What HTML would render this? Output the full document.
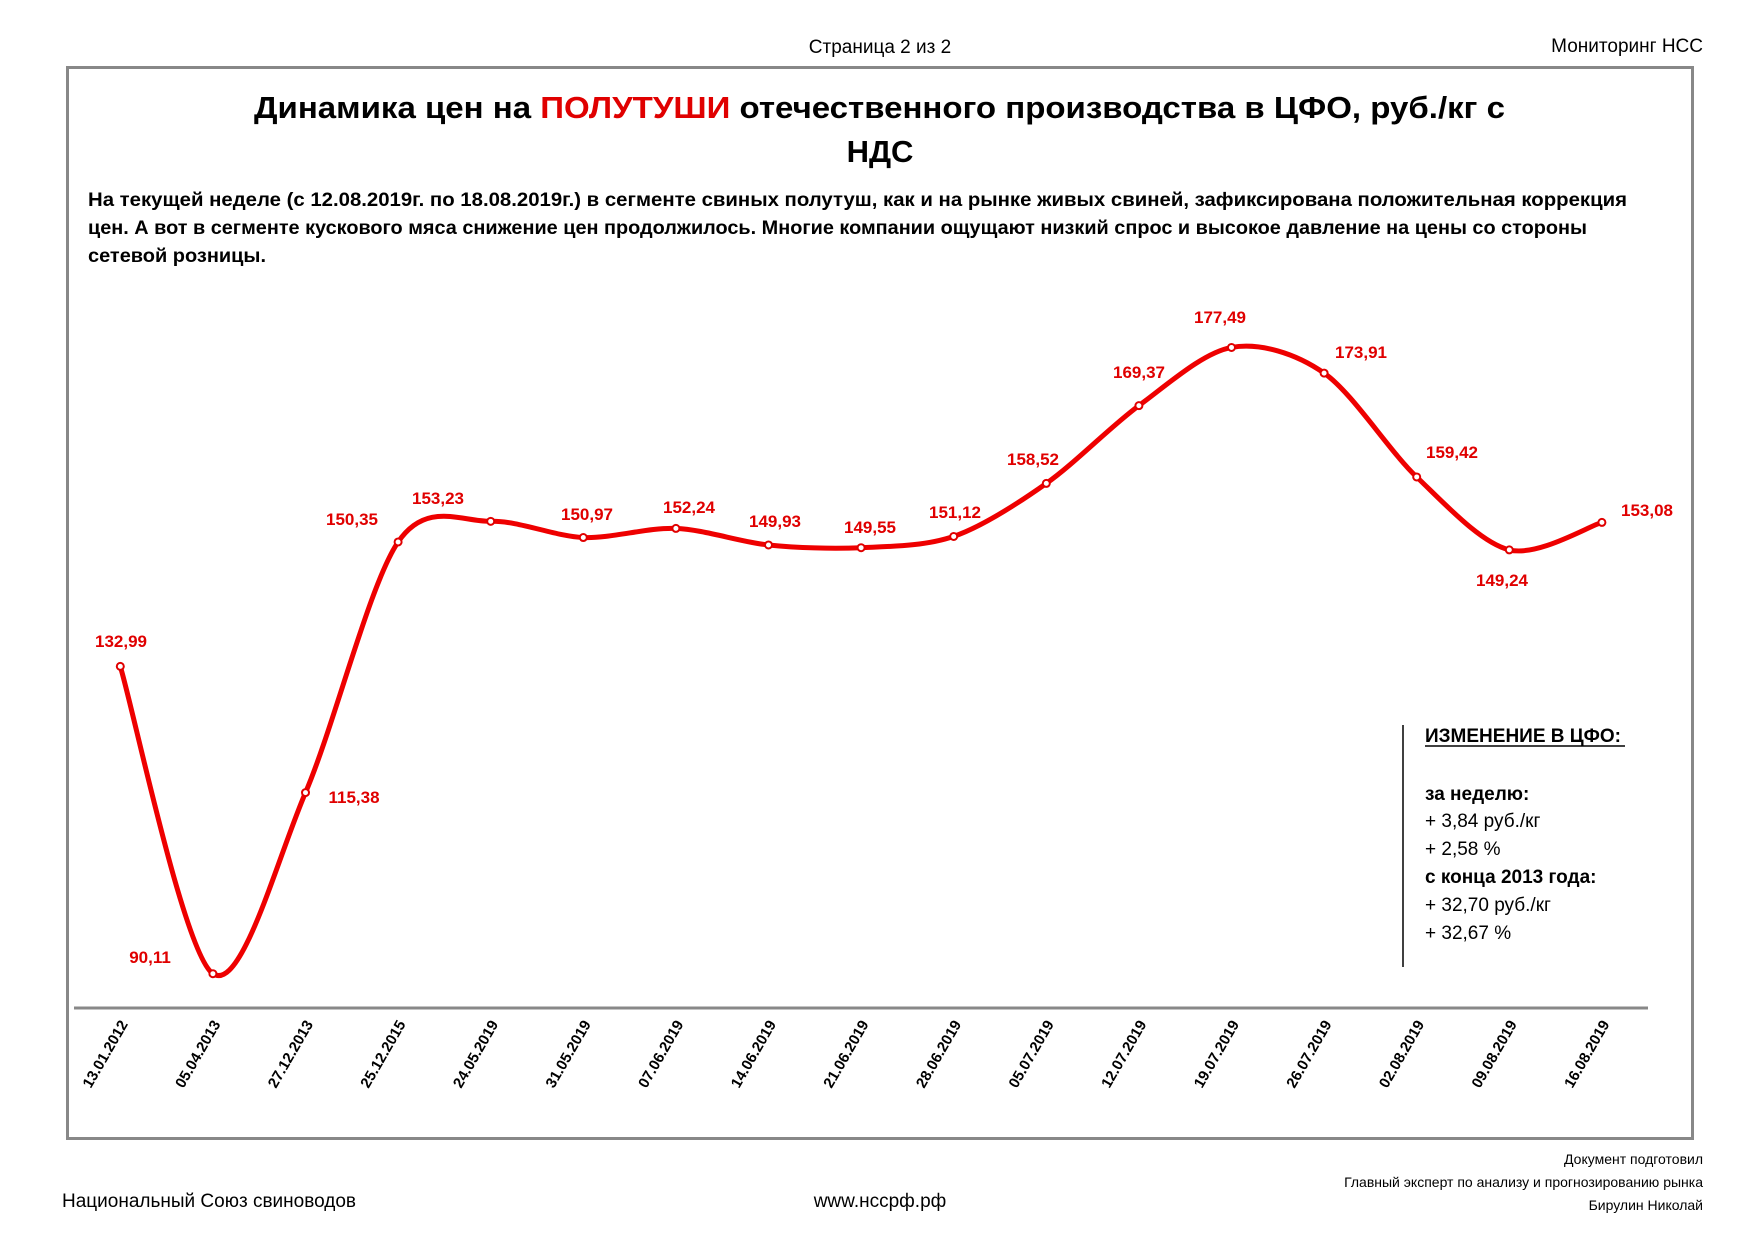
<!DOCTYPE html>
<html><head><meta charset="utf-8"><style>
html,body{margin:0;padding:0;background:#fff;}
svg{display:block;font-family:"Liberation Sans","DejaVu Sans",sans-serif;}
</style></head><body>
<svg id="s" width="1754" height="1240" viewBox="0 0 1754 1240" xmlns="http://www.w3.org/2000/svg">
<rect width="1754" height="1240" fill="#fff"/>
<text x="880" y="53" font-size="19" text-anchor="middle" fill="#000">Страница 2 из 2</text>
<text x="1703" y="52" font-size="19" text-anchor="end" fill="#000">Мониторинг НСС</text>
<rect x="67.5" y="67.5" width="1625" height="1071" fill="none" stroke="#888" stroke-width="3"/>
<text x="254" y="118" font-size="31" font-weight="bold" textLength="1251" lengthAdjust="spacingAndGlyphs">Динамика цен на <tspan fill="#e00000">ПОЛУТУШИ</tspan> отечественного производства в ЦФО, руб./кг с</text>
<text x="880" y="162" font-size="31" font-weight="bold" text-anchor="middle">НДС</text>
<g font-size="19" font-weight="bold">
<text x="88" y="206" textLength="1539" lengthAdjust="spacingAndGlyphs">На текущей неделе (с 12.08.2019г. по 18.08.2019г.) в сегменте свиных полутуш, как и на рынке живых свиней, зафиксирована положительная коррекция</text>
<text x="88" y="234" textLength="1499" lengthAdjust="spacingAndGlyphs">цен. А вот в сегменте кускового мяса снижение цен продолжилось. Многие компании ощущают низкий спрос и высокое давление на цены со стороны</text>
<text x="88" y="262" textLength="178" lengthAdjust="spacingAndGlyphs">сетевой розницы.</text>
</g>
<line x1="74" y1="1008" x2="1648" y2="1008" stroke="#888" stroke-width="3"/>
<path id="curve" fill="none" stroke="#ee0000" stroke-width="5" stroke-linejoin="round"/>
<g id="pts"></g>
<g id="dates" font-size="15" font-weight="bold"></g>
<g font-size="17" font-weight="bold" fill="#e00000" text-anchor="middle">
<text x="121" y="647">132,99</text>
<text x="150" y="963">90,11</text>
<text x="354" y="803">115,38</text>
<text x="352" y="525">150,35</text>
<text x="438" y="504">153,23</text>
<text x="587" y="520">150,97</text>
<text x="689" y="513">152,24</text>
<text x="775" y="527">149,93</text>
<text x="870" y="533">149,55</text>
<text x="955" y="518">151,12</text>
<text x="1033" y="465">158,52</text>
<text x="1139" y="378">169,37</text>
<text x="1220" y="323">177,49</text>
<text x="1361" y="358">173,91</text>
<text x="1452" y="458">159,42</text>
<text x="1502" y="586">149,24</text>
<text x="1647" y="516">153,08</text>
</g>
<line x1="1403" y1="725" x2="1403" y2="967" stroke="#000" stroke-width="1.5"/>
<g font-size="19" fill="#000">
<text x="1425" y="742" font-weight="bold">ИЗМЕНЕНИЕ В ЦФО:</text>
<line x1="1425" y1="746" x2="1625" y2="746" stroke="#000" stroke-width="1.5"/>
<text x="1425" y="800" font-weight="bold">за неделю:</text>
<text x="1425" y="827">+ 3,84 руб./кг</text>
<text x="1425" y="855">+ 2,58 %</text>
<text x="1425" y="883" font-weight="bold">с конца 2013 года:</text>
<text x="1425" y="911">+ 32,70 руб./кг</text>
<text x="1425" y="939">+ 32,67 %</text>
</g>
<text x="62" y="1207" font-size="19">Национальный Союз свиноводов</text>
<text x="880" y="1207" font-size="19" text-anchor="middle">www.нсcрф.рф</text>
<g font-size="14" text-anchor="end">
<text x="1703" y="1164">Документ подготовил</text>
<text x="1703" y="1187">Главный эксперт по анализу и прогнозированию рынка</text>
<text x="1703" y="1210">Бирулин Николай</text>
</g>
</svg>
<script>
var vals=[132.99,90.11,115.38,150.35,153.23,150.97,152.24,149.93,149.55,151.12,158.52,169.37,177.49,173.91,159.42,149.24,153.08];
var dates=["13.01.2012","05.04.2013","27.12.2013","25.12.2015","24.05.2019","31.05.2019","07.06.2019","14.06.2019","21.06.2019","28.06.2019","05.07.2019","12.07.2019","19.07.2019","26.07.2019","02.08.2019","09.08.2019","16.08.2019"];
var P=vals.map(function(v,i){return [120.3+92.6*i,973.7-(v-90.11)*7.167];});
var d="M"+P[0][0]+","+P[0][1];
var t=1/6.5;
for(var i=0;i<P.length-1;i++){
 var p0=P[i-1]||P[i],p1=P[i],p2=P[i+1],p3=P[i+2]||P[i+1];
 var c1=[p1[0]+(p2[0]-p0[0])*t,p1[1]+(p2[1]-p0[1])*t];
 var c2=[p2[0]-(p3[0]-p1[0])*t,p2[1]-(p3[1]-p1[1])*t];
 d+=" C"+c1[0].toFixed(1)+","+c1[1].toFixed(1)+" "+c2[0].toFixed(1)+","+c2[1].toFixed(1)+" "+p2[0].toFixed(1)+","+p2[1].toFixed(1);
}
document.getElementById("curve").setAttribute("d",d);
var ns="http://www.w3.org/2000/svg",g=document.getElementById("pts"),gd=document.getElementById("dates");
P.forEach(function(p,i){
 var c=document.createElementNS(ns,"circle");
 c.setAttribute("cx",p[0]);c.setAttribute("cy",p[1]);c.setAttribute("r",3.5);
 c.setAttribute("fill","#fff");c.setAttribute("stroke","#e00000");c.setAttribute("stroke-width",2);
 g.appendChild(c);
 var tx=document.createElementNS(ns,"text");
 var x=p[0]+8,y=1024;
 tx.setAttribute("x",x);tx.setAttribute("y",y);tx.setAttribute("text-anchor","end");
 tx.setAttribute("transform","rotate(-60 "+x+" "+y+")");
 tx.textContent=dates[i];gd.appendChild(tx);
});
</script>
</body></html>
